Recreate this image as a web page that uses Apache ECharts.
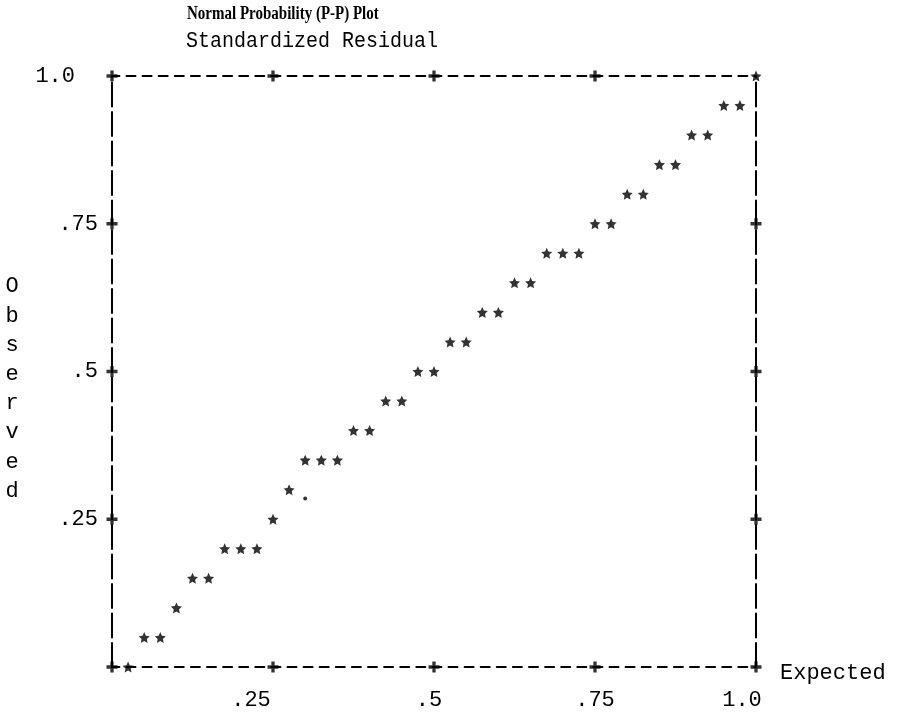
<!DOCTYPE html>
<html>
<head>
<meta charset="utf-8">
<script src="https://cdn.jsdelivr.net/npm/echarts@6/dist/echarts.min.js"></script>
<style>
  html, body { margin: 0; padding: 0; background: #fff; }
  #chart { width: 911px; height: 717px; }
</style>
</head>
<body>
<div id="chart"></div>
<script>
// one entry per star in the plot
const expected = [
  0.025, 0.05, 0.075, 0.1, 0.125, 0.15, 0.175, 0.2, 0.225, 0.25,
  0.275, 0.3, 0.325, 0.35, 0.375, 0.4, 0.425, 0.45, 0.475, 0.5,
  0.525, 0.55, 0.575, 0.6, 0.625, 0.65, 0.675, 0.7, 0.725, 0.75,
  0.775, 0.8, 0.825, 0.85, 0.875, 0.9, 0.925, 0.95, 0.975, 1.0
]
const observed = [
  0, 0.05, 0.05, 0.1, 0.15, 0.15, 0.2, 0.2, 0.2, 0.25,
  0.3, 0.35, 0.35, 0.35, 0.4, 0.4, 0.45, 0.45, 0.5, 0.5,
  0.55, 0.55, 0.6, 0.6, 0.65, 0.65, 0.7, 0.7, 0.7, 0.75,
  0.75, 0.8, 0.8, 0.85, 0.85, 0.9, 0.9, 0.95, 0.95, 1.0
]
// the single '.' mark
const dotPoint = [0.3, 0.285]

const xTicks = [0, 0.25, 0.5, 0.75, 1]
const yTicks = [0, 0.25, 0.5, 0.75, 1]
const tickText = { 0.25: '.25', 0.5: '.5', 0.75: '.75', 1: '1.0' }

const mono = 'Liberation Mono'
const starPath = 'path://M50,0 L64.1,30.6 L97.6,34.5 L72.8,57.4 L79.4,90.5 L50,74 L20.6,90.5 L27.2,57.4 L2.4,34.5 L35.9,30.6 Z'
const plusPath = 'path://M3.5,0 H6.5 V3.5 H10 V6.5 H6.5 V10 H3.5 V6.5 H0 V3.5 H3.5 Z'

// '+' marks on the frame (top right corner holds a star)
const plusData = []
xTicks.forEach(x => {
  plusData.push([x, 0])
  if (x !== 1) plusData.push([x, 1])
})
yTicks.forEach(y => {
  if (y === 0 || y === 1) return
  plusData.push([0, y])
  plusData.push([1, y])
})

const myChart = echarts.init(document.getElementById('chart'))

const hLine = { color: '#000', width: 2, type: [9, 7.1], dashOffset: 1.6 }
const vLine = { color: '#000', width: 2, type: [24, 5.5], dashOffset: 0 }
const labelFont = { fontFamily: mono, fontSize: 22, color: '#000' }

myChart.setOption({
  animation: false,
  backgroundColor: '#fff',
  graphic: [
    {
      type: 'text',
      x: 187,
      y: 4,
      scaleY: 1.3,
      style: {
        text: 'Normal Probability (P-P) Plot',
        fontFamily: 'Liberation Serif',
        fontWeight: 'bold',
        fontSize: 15,
        fill: '#000'
      }
    },
    {
      type: 'text',
      x: 186,
      y: 30,
      scaleY: 1.12,
      style: {
        text: 'Standardized Residual',
        fontFamily: mono,
        fontSize: 20,
        fill: '#000'
      }
    },
    {
      // vertical y axis title, one letter per row
      type: 'text',
      x: 12,
      y: 272,
      style: {
        text: 'O\nb\ns\ne\nr\nv\ne\nd',
        fontFamily: mono,
        fontSize: 22,
        lineHeight: 29.2,
        align: 'center',
        verticalAlign: 'top',
        fill: '#000'
      }
    }
  ],
  grid: { left: 112, right: 155, top: 76, bottom: 50 },
  xAxis: [
    {
      type: 'value',
      min: 0,
      max: 1,
      interval: 0.25,
      position: 'bottom',
      axisLine: { onZero: false, lineStyle: hLine },
      axisTick: { show: false },
      splitLine: { show: false },
      axisLabel: {
        margin: 22,
        ...labelFont,
        formatter: v => {
          if (v === 0) return ''
          if (v === 0.25) return '{a|.25}'
          if (v === 0.5) return '{b|.5}'
          if (v === 1) return '{c|1.0}'
          return tickText[v]
        },
        rich: {
          a: { ...labelFont, padding: [0, 44, 0, 0] },
          b: { ...labelFont, padding: [0, 10, 0, 0] },
          c: { ...labelFont, padding: [0, 28, 0, 0] }
        }
      },
      name: 'Expected',
      nameLocation: 'end',
      nameGap: 24,
      nameTextStyle: { ...labelFont, align: 'left', verticalAlign: 'top', lineHeight: 12 }
    },
    {
      type: 'value',
      min: 0,
      max: 1,
      interval: 0.25,
      position: 'top',
      axisLine: { onZero: false, lineStyle: hLine },
      axisTick: { show: false },
      splitLine: { show: false },
      axisLabel: { show: false }
    }
  ],
  yAxis: [
    {
      type: 'value',
      min: 0,
      max: 1,
      interval: 0.25,
      position: 'left',
      axisLine: { onZero: false, lineStyle: vLine },
      axisTick: { show: false },
      splitLine: { show: false },
      axisLabel: {
        margin: 14,
        ...labelFont,
        formatter: v => (v === 0 ? '' : v === 1 ? '{p|1.0}' : tickText[v]),
        rich: { p: { ...labelFont, padding: [0, 23, 0, 0] } }
      }
    },
    {
      type: 'value',
      min: 0,
      max: 1,
      interval: 0.25,
      position: 'right',
      axisLine: { onZero: false, lineStyle: vLine },
      axisTick: { show: false },
      splitLine: { show: false },
      axisLabel: { show: false }
    }
  ],
  series: [
    {
      type: 'scatter',
      clip: false,
      symbol: plusPath,
      symbolSize: 11,
      itemStyle: { color: '#000' },
      z: 3,
      data: plusData
    },
    {
      type: 'scatter',
      clip: false,
      symbol: starPath,
      symbolSize: 11,
      itemStyle: { color: '#000' },
      z: 4,
      data: expected.map((x, i) => [x, observed[i]])
    },
    {
      type: 'scatter',
      clip: false,
      symbol: 'circle',
      symbolSize: 4,
      itemStyle: { color: '#000' },
      z: 4,
      data: [dotPoint]
    }
  ]
})
</script>
</body>
</html>
